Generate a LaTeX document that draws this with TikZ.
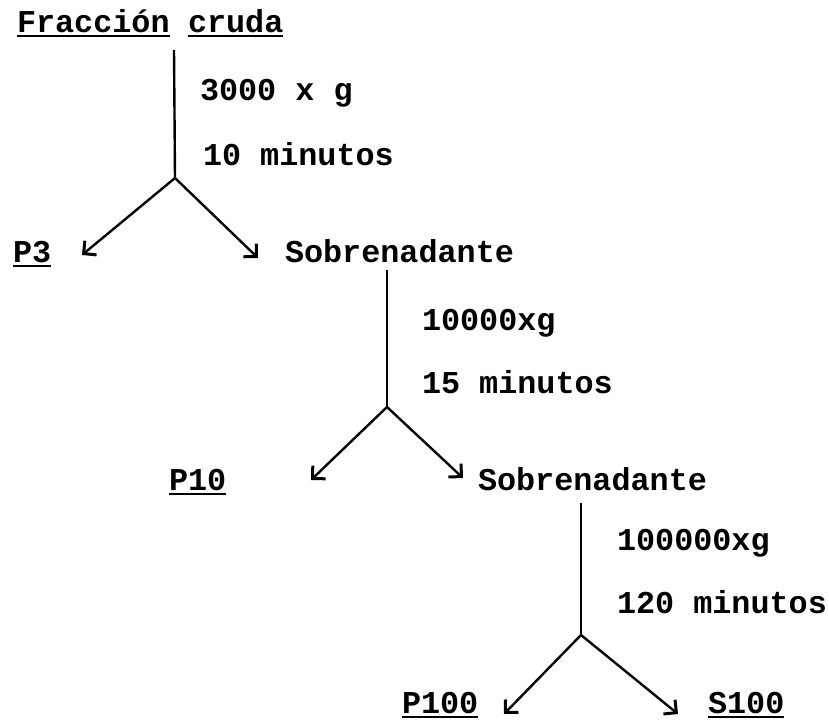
\documentclass[tikz,border=0pt]{standalone}
\usepackage{fontspec}
\setmonofont{Liberation Mono}
\usetikzlibrary{arrows.meta}
\begin{document}
\begin{tikzpicture}[x=1pt,y=-1pt,
  lbl/.style={anchor=base west, inner sep=0pt, outer sep=0pt,
    font=\ttfamily\bfseries\fontsize{31.8}{36}\selectfont},
  stem/.style={line width=2.4pt},
  split/.style={line width=2.4pt, -{Straight Barb[angle=90:13pt, line width=3pt]}},
  ul/.style={line width=2pt}]
\useasboundingbox (0,0) rectangle (829,723);

% ---- first spin: crude fraction ----
\node[lbl] (frac1) at (17,32) {Fracción};
\node[lbl] (frac2) at (188,32) {cruda};
\draw[ul] ([yshift=-4pt]frac1.base west) -- ([yshift=-4pt]frac1.base east);
\draw[ul] ([yshift=-4pt]frac2.base west) -- ([yshift=-4pt]frac2.base east);
\node[lbl] (g1) at (200,100) {3000 x g};
\node[lbl] (m1) at (203,165) {10 minutos};
\coordinate (top1) at (174,50);
\coordinate (j1) at (175,178);
\node[lbl] (p3) at (13,262) {P3};
\draw[ul] ([yshift=-4pt]p3.base west) -- ([yshift=-4pt]p3.base east);
\node[lbl] (sob1) at (285,262) {Sobrenadante};
\coordinate (a1l) at (82,255);
\coordinate (a1r) at (258,258);
\draw[stem] (top1) -- (j1);
\draw[split] (j1) -- (a1l);
\draw[split] (j1) -- (a1r);

% ---- second spin ----
\coordinate (top2) at (387,270);
\coordinate (j2) at (387,407);
\node[lbl] (g2) at (422,330) {10000xg};
\node[lbl] (m2) at (422,393) {15 minutos};
\node[lbl] (p10) at (169,490) {P10};
\draw[ul] ([yshift=-4pt]p10.base west) -- ([yshift=-4pt]p10.base east);
\node[lbl] (sob2) at (478,490) {Sobrenadante};
\coordinate (a2l) at (311,480);
\coordinate (a2r) at (463,478);
\draw[stem] (top2) -- (j2);
\draw[split] (j2) -- (a2l);
\draw[split] (j2) -- (a2r);

% ---- third spin ----
\coordinate (top3) at (581,503);
\coordinate (j3) at (581,635);
\node[lbl] (g3) at (617,550) {100000xg};
\node[lbl] (m3) at (617,613) {120 minutos};
\node[lbl] (p100) at (402,713) {P100};
\draw[ul] ([yshift=-4pt]p100.base west) -- ([yshift=-4pt]p100.base east);
\node[lbl] (s100) at (708,713) {S100};
\draw[ul] ([yshift=-4pt]s100.base west) -- ([yshift=-4pt]s100.base east);
\coordinate (a3l) at (504,714);
\coordinate (a3r) at (678,714);
\draw[stem] (top3) -- (j3);
\draw[split] (j3) -- (a3l);
\draw[split] (j3) -- (a3r);
\end{tikzpicture}
\end{document}
